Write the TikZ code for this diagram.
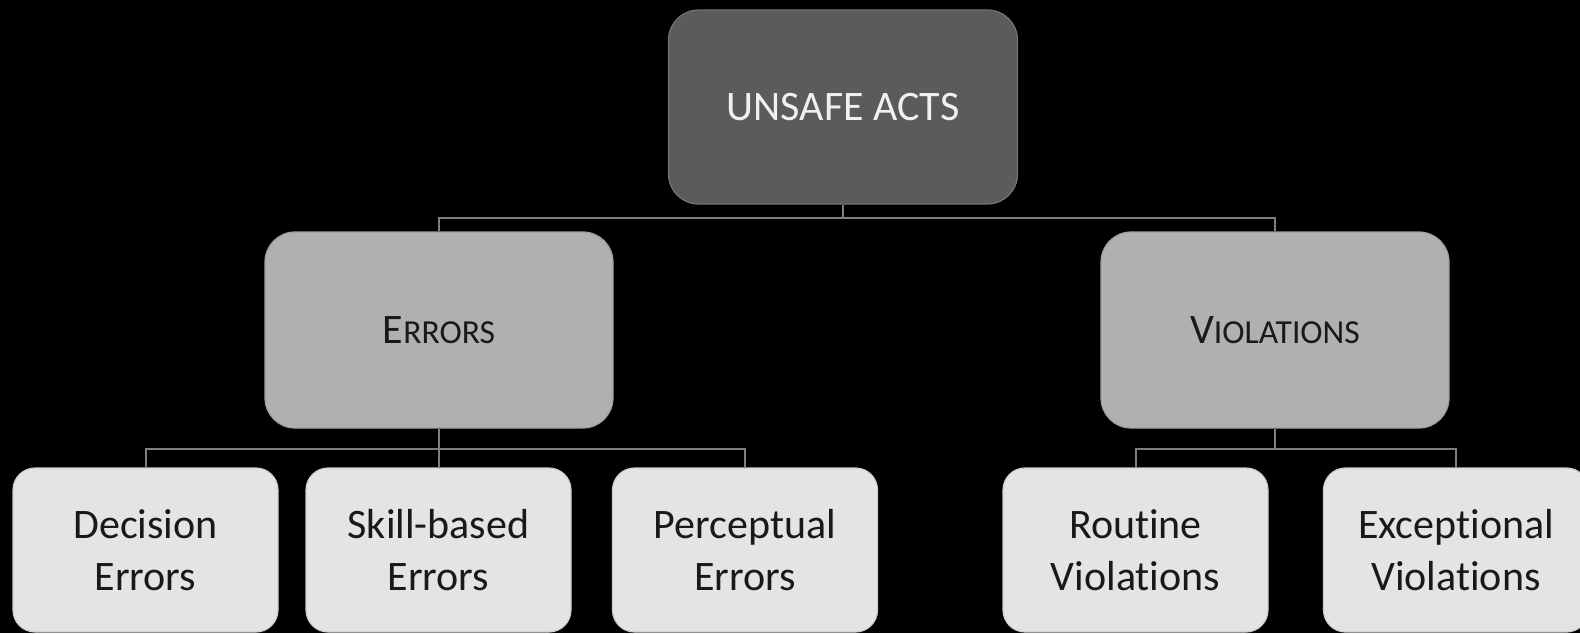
\documentclass[tikz,border=0pt]{standalone}
\usepackage{fontspec}
\setmainfont{Carlito}[RawFeature={-liga;-clig;-calt;-dlig}]
\usetikzlibrary{positioning}
\definecolor{darkbox}{HTML}{5B5B5B}
\definecolor{midgray}{HTML}{B0B0B0}
\definecolor{lightbox}{HTML}{E4E4E4}
\definecolor{linkgray}{HTML}{7F7F7F}
\newcommand{\fakesc}[2]{#1{\fontsize{16.8}{20}\selectfont #2}}

\begin{document}
\begin{tikzpicture}[x=0.5pt,y=-0.5pt,
  topbox/.style={draw=darkbox!85!white,line width=0.6pt,fill=darkbox,rounded corners=15pt,
    minimum width=174.5pt,minimum height=97pt,inner sep=0pt,text=white!94!black,
    font=\fontsize{21}{26}\selectfont},
  midbox/.style={draw=midgray!90!black,line width=0.6pt,fill=midgray,rounded corners=15pt,
    minimum width=174pt,minimum height=98pt,inner sep=0pt,text=black!90,
    font=\fontsize{21}{26}\selectfont},
  leafbox/.style={draw=lightbox!90!black,line width=0.6pt,fill=lightbox,rounded corners=11pt,
    minimum width=132.5pt,minimum height=82pt,inner sep=0pt,align=center,text=black!90,
    font=\fontsize{21}{26}\selectfont},
  link/.style={draw=linkgray,line width=1pt}]
\useasboundingbox (0,0) rectangle (1580,633);
\fill[black] (0,0) rectangle (1580,633);

\node[topbox] (unsafe) at (843,107) {UNSAFE ACTS};

\node[midbox] (errors) at (439,330) {\fakesc{E}{RRORS}};
\node[midbox] (viol) at (1275,330) {\fakesc{V}{IOLATIONS}};

\node[leafbox] (decision) at (145.5,550) {Decision\\Errors};
\node[leafbox] (skill) at (438.5,550) {Skill-based\\Errors};
\node[leafbox] (percept) at (745,550) {Perceptual\\Errors};
\node[leafbox] (routine) at (1135.5,550) {Routine\\Violations};
\node[leafbox] (except) at (1456,550) {Exceptional\\Violations};

\draw[link] (unsafe.south) -- ++(0,13) -| (errors.north);
\draw[link] (unsafe.south) -- ++(0,13) -| (viol.north);
\foreach \leaf in {decision,skill,percept}
  \draw[link] (errors.south) -- ++(0,20) -| (\leaf.north);
\foreach \leaf in {routine,except}
  \draw[link] (viol.south) -- ++(0,20) -| (\leaf.north);
\end{tikzpicture}
\end{document}
